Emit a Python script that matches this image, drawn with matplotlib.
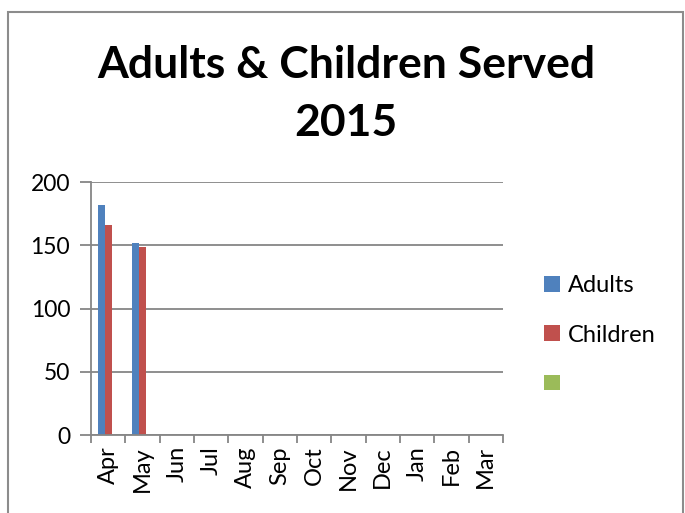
import matplotlib.pyplot as plt
import numpy as np
from matplotlib.patches import Rectangle

months = ["Apr", "May", "Jun", "Jul", "Aug", "Sep", "Oct", "Nov", "Dec", "Jan", "Feb", "Mar"]
adults = [182, 152, None, None, None, None, None, None, None, None, None, None]
children = [166, 149, None, None, None, None, None, None, None, None, None, None]
third = [None] * 12
series_names = ["Adults", "Children", ""]
colors = ["#4F81BD", "#C0504D", "#9BBB59"]

plt.rcParams['font.family'] = ['Lato', 'DejaVu Sans']

fig = plt.figure(figsize=(6.85, 5.13), dpi=100)
ax = fig.add_axes([91 / 685, 1 - 435 / 513, 412 / 685, 253 / 513])

x = np.arange(len(months))
width = 0.2
handles = []
for i, (vals, name, col) in enumerate(zip([adults, children, third], series_names, colors)):
    v = np.array([np.nan if a is None else a for a in vals], dtype=float)
    bars = ax.bar(x + (i - 1) * width, v, width, color=col)
    handles.append(bars)

ax.set_xlim(-0.5, len(months) - 0.5)
ax.set_ylim(0, 200)
ax.set_yticks([0, 50, 100, 150, 200])
ax.yaxis.grid(True, color="#868686", linewidth=1.3)
ax.set_axisbelow(True)

ax.set_xticks(x)
ax.set_xticklabels(months, rotation=90, fontsize=17)
ax.set_xticks(np.arange(-0.5, len(months)), minor=True)
ax.tick_params(axis="x", which="major", length=0, pad=8)
ax.tick_params(axis="x", which="minor", length=6, color="#868686", width=1.3, direction="out")
ax.tick_params(axis="y", length=8, color="#868686", width=1.3, labelsize=16.5, pad=7)

for s in ["top", "right"]:
    ax.spines[s].set_visible(False)
for s in ["left", "bottom"]:
    ax.spines[s].set_color("#868686")
    ax.spines[s].set_linewidth(1.3)

fig.text(346 / 685, 1 - 65 / 513, "Adults & Children Served", ha="center", va="center",
         fontsize=32, fontweight="bold")
fig.text(346 / 685, 1 - 123 / 513, "2015", ha="center", va="center",
         fontsize=32, fontweight="bold")

fig.legend(handles, [" " if n == "" else n for n in series_names], loc="center left",
           bbox_to_anchor=(523 / 685, 1 - 335 / 513),
           frameon=False, fontsize=17, handlelength=0.65, handleheight=0.65,
           handletextpad=0.35, labelspacing=1.2)

fig.patches.append(Rectangle((8 / 685, -0.05), 675 / 685, 1.05 - 12 / 513,
                             transform=fig.transFigure, fill=False,
                             edgecolor="#8c8c8c", linewidth=1.5))

fig.savefig("out.png", dpi=100)
